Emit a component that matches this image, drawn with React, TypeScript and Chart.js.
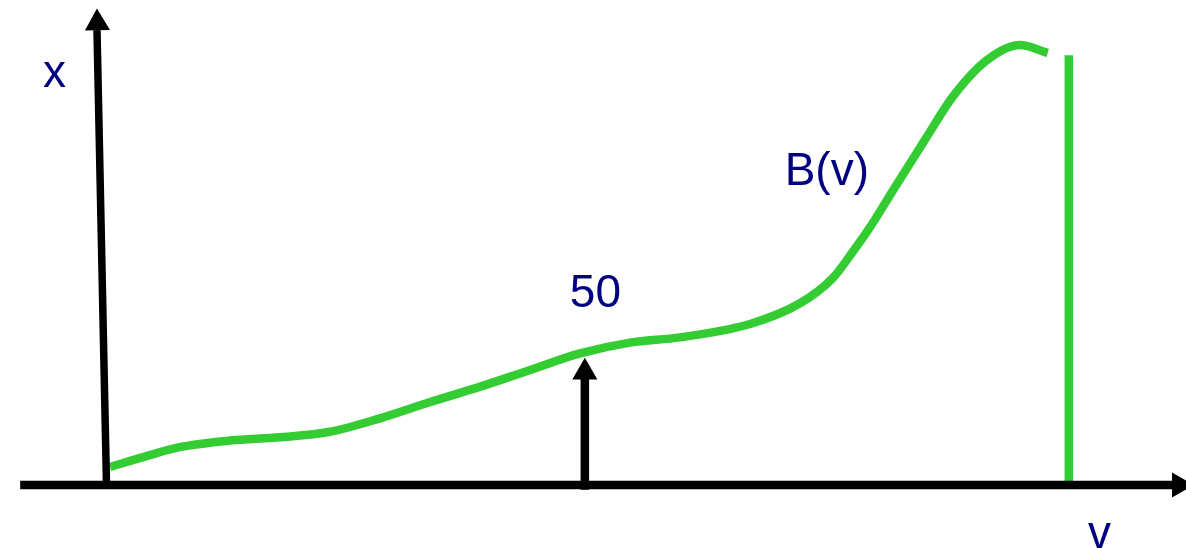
import React, { useEffect, useRef } from "react";
import { Chart, registerables } from "chart.js";

Chart.register(...registerables);

// Curve B(v)
const curveV = [0.35, 4.5, 7.6, 12.85, 18.05, 23.25, 28.45, 33.7, 38.9, 44.1, 49.3, 54.5, 59.7, 67.0, 72.2, 75.6, 77.7, 79.5, 81.9, 85.4, 88.1, 91.7, 95.1, 98.0];
const curveB = [4.1, 6.8, 8.6, 10.1, 10.85, 12.1, 15.15, 18.85, 22.35, 26.15, 29.9, 32.35, 33.55, 36.6, 41.3, 47.0, 53.0, 58.6, 67.0, 79.1, 88.2, 96.6, 100.0, 98.2];

// Vertical green cut-off line
const cutV = [100.2, 100.2];
const cutY = [0.4, 97.7];

// Axes (v axis horizontal, x axis vertical, slightly tilted)
const hAxisV = [-9.0, 111.3];
const hAxisY = [0, 0];
const vAxisV = [0, -1.0];
const vAxisY = [-0.9, 103.4];
// Marker arrow at v = 50
const markV = [49.8, 49.8];
const markY = [-1.1, 25.0];

// Arrowheads (center positions) and rotations
const headV = [111.7, -0.97, 49.8];
const headY = [0, 105.0, 25.6];
const headRot = [90, -1.3, 0];

// Text labels
const labelText = ["x", "v", "B(v)", "50"];
const labelV = [-5.43, 103.4, 75.0, 50.9];
const labelY = [90.45, -14.3, 68.2, 40.45];

const GREEN = "#33CC33";
const NAVY = "#000080";

const pts = (xs: number[], ys: number[]) => xs.map((x, i) => ({ x, y: ys[i] }));

const labelsPlugin = {
  id: "diagramLabels",
  afterDatasetsDraw(chart: any) {
    const { ctx, scales } = chart;
    ctx.save();
    ctx.fillStyle = NAVY;
    ctx.font = "46px 'Liberation Sans', Arial, sans-serif";
    ctx.textAlign = "center";
    ctx.textBaseline = "alphabetic";
    labelText.forEach((t, i) => {
      ctx.fillText(t, scales.x.getPixelForValue(labelV[i]), scales.y.getPixelForValue(labelY[i]));
    });
    ctx.restore();
  },
};

export default function App() {
  const ref = useRef<HTMLCanvasElement | null>(null);
  useEffect(() => {
    if (!ref.current) return;
    const line = (data: any, color: string, width: number, extra: any = {}) => ({
      type: "line",
      data,
      borderColor: color,
      backgroundColor: color,
      borderWidth: width,
      pointRadius: 0,
      borderCapStyle: "butt",
      fill: false,
      clip: false,
      ...extra,
    });
    const chart = new Chart(ref.current, {
      type: "line",
      data: {
        datasets: [
          line(pts(hAxisV, hAxisY), "#000000", 8.5),
          line(pts(vAxisV, vAxisY), "#000000", 7.5),
          line(pts(markV, markY), "#000000", 8.5),
          line(pts(curveV, curveB), GREEN, 8.5, { cubicInterpolationMode: "monotone", borderJoinStyle: "round" }),
          line(pts(cutV, cutY), GREEN, 8.5),
          {
            type: "scatter",
            data: pts(headV, headY),
            pointStyle: "triangle",
            pointRadius: 14.5,
            rotation: headRot,
            backgroundColor: "#000000",
            borderColor: "#000000",
            borderWidth: 0,
            clip: false,
          },
        ] as any,
      },
      options: {
        responsive: false,
        animation: false,
        layout: { padding: 0, autoPadding: false },
        plugins: { legend: { display: false }, tooltip: { enabled: false }, title: { display: false } },
        events: [],
        scales: {
          x: { type: "linear", min: -11.1, max: 112.4, display: false },
          y: { type: "linear", min: -14.32, max: 110.23, display: false },
        },
      } as any,
      plugins: [labelsPlugin],
    });
    return () => chart.destroy();
  }, []);
  return (
    <div style={{ position: "fixed", left: 0, top: 0, width: 1186, height: 548, background: "#ffffff" }}>
      <canvas ref={ref} width={1186} height={548} style={{ display: "block" }} />
    </div>
  );
}
